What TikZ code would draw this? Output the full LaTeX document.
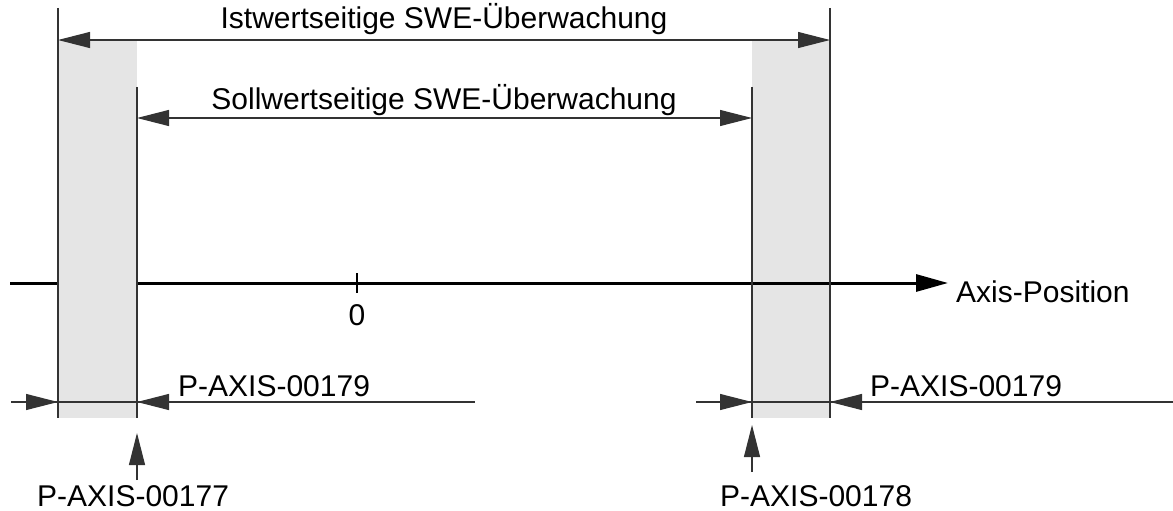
\documentclass[tikz,border=0pt]{standalone}
\usepackage{fontspec}
\setmainfont{Liberation Sans}
\usetikzlibrary{arrows.meta}
\definecolor{band}{HTML}{E5E5E5}
\tikzset{
  thin line/.style={draw=black!80, line width=1.1pt},
  dim/.style={thin line, -{Triangle[length=32pt,width=16pt]}},
  dimboth/.style={thin line, {Triangle[length=32pt,width=16pt]}-{Triangle[length=32pt,width=16pt]}},
  axisline/.style={draw=black, line width=3pt, -{Triangle[length=32pt,width=17pt]}},
  lbl/.style={inner sep=0pt, font=\fontsize{30}{36}\selectfont},
}
\begin{document}
\begin{tikzpicture}[x=1pt,y=-1pt]
\useasboundingbox (0,0) rectangle (1173,511);
% right band (axis drawn over it)
\fill[band] (752,40) rectangle (830,418);
% axis
\coordinate (ax0) at (10,283);
\coordinate (ax1) at (948,283);
\draw[axisline] (ax0) -- (ax1);
\node[lbl, anchor=base west] (axlbl) at (956,302) {Axis-Position};
\coordinate (tick0) at (357,273);
\coordinate (tick1) at (357,293);
\draw[draw=black, line width=2.5pt] (tick0) -- (tick1);
\node[lbl, anchor=base] (zero) at (357,325) {0};
% left band (covers axis)
\fill[band] (58,40) rectangle (137,418);
% vertical boundary lines
\coordinate (l1t) at (58,8);   \coordinate (l1b) at (58,418);
\coordinate (l2t) at (137,87); \coordinate (l2b) at (137,418);
\coordinate (r1t) at (752,87); \coordinate (r1b) at (752,418);
\coordinate (r2t) at (830,8);  \coordinate (r2b) at (830,418);
\draw[thin line] (l1t) -- (l1b);
\draw[thin line] (l2t) -- (l2b);
\draw[thin line] (r1t) -- (r1b);
\draw[thin line] (r2t) -- (r2b);
% top dimension
\coordinate (ist0) at (58,40);
\coordinate (ist1) at (830,40);
\draw[dimboth] (ist0) -- (ist1);
\node[lbl, anchor=base] (istlbl) at (444,29) {Istwertseitige SWE-Überwachung};
\coordinate (soll0) at (137,118);
\coordinate (soll1) at (752,118);
\draw[dimboth] (soll0) -- (soll1);
\node[lbl, anchor=base] (solllbl) at (444,109) {Sollwertseitige SWE-Überwachung};
% bottom left dimension
\coordinate (bl0) at (11,402);
\coordinate (bl1) at (475,402);
\draw[thin line] (bl0) -- (bl1);
\coordinate (bla) at (27,402);
\coordinate (blb) at (169,402);
\draw[dim] (bla) -- (l1b |- bla);
\draw[dim] (blb) -- (l2b |- blb);
\node[lbl, anchor=base west] (p179a) at (178,396) {P-AXIS-00179};
% bottom right dimension
\coordinate (br0) at (696,402);
\coordinate (br1) at (1173,402);
\draw[thin line] (br0) -- (br1);
\coordinate (bra) at (719,402);
\coordinate (brb) at (862,402);
\draw[dim] (bra) -- (r1b |- bra);
\draw[dim] (brb) -- (r2b |- brb);
\node[lbl, anchor=base west] (p179b) at (870,396) {P-AXIS-00179};
% lower pointers
\coordinate (p177t) at (137,480);
\coordinate (p177h) at (137,433);
\draw[dim] (p177t) -- (p177h);
\node[lbl, anchor=base west] (p177) at (37,506) {P-AXIS-00177};
\coordinate (p178t) at (752,472);
\coordinate (p178h) at (752,425);
\draw[dim] (p178t) -- (p178h);
\node[lbl, anchor=base west] (p178) at (720,506) {P-AXIS-00178};
\end{tikzpicture}
\end{document}
